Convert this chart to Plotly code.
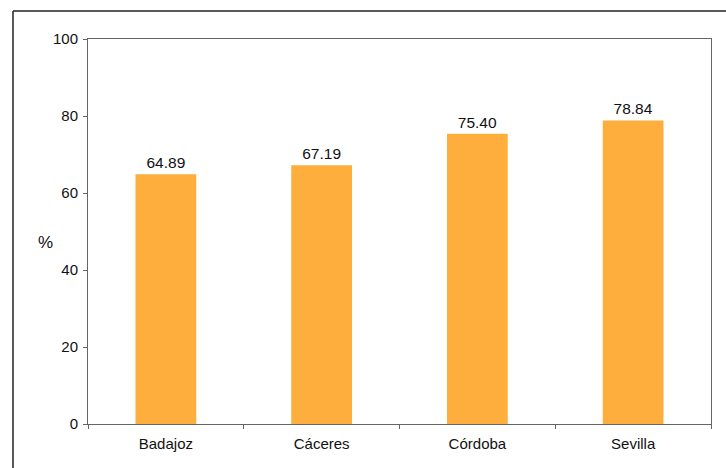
import plotly.graph_objects as go

categories = ["Badajoz", "Cáceres", "Córdoba", "Sevilla"]
values = [64.89, 67.19, 75.40, 78.84]
labels = ["64.89", "67.19", "75.40", "78.84"]

L, R, T, B = 88, 711, 39, 424
W, H = 726, 468

fig = go.Figure(go.Bar(
    x=categories, y=values, text=labels, textposition="outside",
    marker=dict(color="#FDAE3C", line=dict(width=0)),
    textfont=dict(family="Liberation Sans, Arial", size=15.5, color="#111"),
    cliponaxis=False, width=0.39,
))

def px_x(p):
    return (p - L) / (R - L)

def px_y(p):
    return (B - p) / (B - T)

fig.update_layout(
    width=W, height=H,
    margin=dict(l=L, r=W - R, t=T, b=H - B),
    paper_bgcolor="white", plot_bgcolor="white",
    showlegend=False,
    font=dict(family="Liberation Sans, Arial", size=15, color="#111"),
    xaxis=dict(showgrid=False, showline=True, linecolor="#666", linewidth=1,
               ticks="outside", tickson="boundaries", ticklen=4, tickcolor="#666",
               mirror=True, tickfont=dict(size=15), ticklabelstandoff=6),
    yaxis=dict(range=[0, 100], dtick=20, showgrid=False, showline=True,
               linecolor="#666", linewidth=1, ticks="outside", ticklen=4,
               tickcolor="#666", mirror=True, tickfont=dict(size=15), zeroline=False,
               ticklabelstandoff=2),
    shapes=[
        dict(type="line", xref="paper", yref="paper", x0=px_x(13), x1=px_x(726),
             y0=px_y(11), y1=px_y(11), line=dict(color="#222", width=1.5)),
        dict(type="line", xref="paper", yref="paper", x0=px_x(13), x1=px_x(13),
             y0=px_y(11), y1=px_y(468), line=dict(color="#222", width=1.5)),
    ],
    annotations=[
        dict(text="%", xref="paper", yref="paper", x=px_x(45), y=px_y(242),
             showarrow=False, font=dict(size=17), xanchor="center", yanchor="middle"),
    ],
)

fig.write_html("out.html")
